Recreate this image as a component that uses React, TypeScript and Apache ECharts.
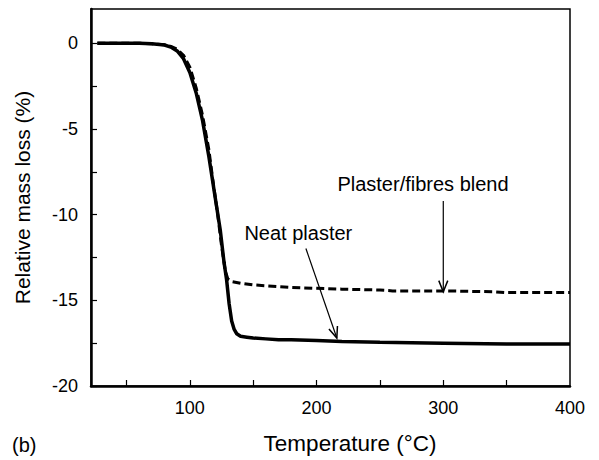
import React, { useEffect, useRef } from "react";
import * as echarts from "echarts";

// Neat plaster (solid line)
const neatT = [27, 40, 50, 60, 70, 80, 85, 90, 95, 100, 105, 110, 115, 120, 124, 127, 129, 131, 133, 135, 137, 140, 145, 150, 160, 170, 180, 200, 220, 250, 300, 350, 400];
const neatV = [0, 0, 0, 0, -0.03, -0.1, -0.22, -0.45, -0.9, -1.7, -2.9, -4.5, -6.6, -9.0, -10.9, -12.8, -13.8, -15.2, -16.2, -16.7, -16.95, -17.1, -17.15, -17.2, -17.25, -17.3, -17.3, -17.35, -17.4, -17.45, -17.5, -17.55, -17.55];

// Plaster/fibres blend (dashed line)
const blendT = [27, 40, 50, 60, 70, 80, 85, 90, 95, 100, 105, 110, 115, 118, 122, 125, 128, 130, 133, 140, 150, 160, 180, 200, 220, 250, 260, 300, 340, 350, 400];
const blendV = [0, 0, 0, 0, -0.03, -0.08, -0.18, -0.35, -0.7, -1.4, -2.6, -4.2, -6.2, -7.9, -10.0, -11.8, -13.3, -13.75, -13.9, -14.0, -14.1, -14.15, -14.25, -14.3, -14.35, -14.4, -14.45, -14.45, -14.5, -14.55, -14.55];

const xTickValues = [50, 100, 150, 200, 250, 300, 350];
const xLabelValues = [100, 200, 300, 400];
const yTickValues = [-20, -17.5, -15, -12.5, -10, -7.5, -5, -2.5, 0];
const yLabelValues = [-20, -15, -10, -5, 0];

// annotation texts and their anchor points in data units
const annotationLabels = ["Plaster/fibres blend", "Neat plaster"];
const annotationX = [284, 185.6];
const annotationY = [-8.2, -11.05];

// arrows [x1, y1, x2, y2] in data units
const arrows = [
  [300, -9.2, 300, -14.5],
  [191.6, -11.98, 216, -17.2],
];

const FONT = "Liberation Sans, Arial, Helvetica, sans-serif";

export default function App() {
  const ref = useRef<HTMLDivElement>(null);
  useEffect(() => {
    if (!ref.current) return;
    const chart = echarts.init(ref.current, undefined, { renderer: "svg" });
    const zip = (a: number[], b: number[]) => a.map((v, i) => [v, b[i]]);
    chart.setOption({
      animation: false,
      backgroundColor: "#fff",
      grid: {
        left: 91,
        right: 29,
        top: 9,
        bottom: 73,
        show: true,
        borderColor: "#000",
        borderWidth: 1.5,
        containLabel: false,
      },
      xAxis: {
        type: "value",
        min: 22,
        max: 400,
        name: "Temperature (°C)",
        nameLocation: "middle",
        nameGap: 46,
        nameTextStyle: { fontFamily: FONT, fontSize: 22.5, color: "#000", padding: [0, 0, 0, 39] },
        axisLine: { show: true, onZero: false, lineStyle: { color: "#000", width: 2.5 } },
        axisTick: { show: true, inside: true, length: 6, customValues: xTickValues, lineStyle: { color: "#000", width: 1.2 } },
        axisLabel: { customValues: xLabelValues, fontFamily: FONT, fontSize: 18, color: "#000", margin: 13 },
        splitLine: { show: false },
      },
      yAxis: {
        type: "value",
        min: -20,
        max: 2,
        name: "Relative mass loss (%)",
        nameLocation: "middle",
        nameRotate: 90,
        nameGap: 58,
        nameTextStyle: { fontFamily: FONT, fontSize: 21, color: "#000" },
        axisLine: { show: true, onZero: false, lineStyle: { color: "#000", width: 2.5 } },
        axisTick: { show: true, inside: true, length: 6, customValues: yTickValues, lineStyle: { color: "#000", width: 1.2 } },
        axisLabel: { customValues: yLabelValues, fontFamily: FONT, fontSize: 18, color: "#000", margin: 13 },
        splitLine: { show: false },
      },
      graphic: [
        {
          type: "text",
          left: 12,
          top: 435,
          style: { text: "(b)", font: `20px ${FONT}`, fill: "#000" },
        },
      ],
      series: [
        {
          name: "Plaster/fibres blend",
          type: "line",
          data: zip(blendT, blendV),
          showSymbol: false,
          smooth: false,
          lineStyle: { color: "#000", width: 3, type: [8, 4] },
        },
        {
          name: "Neat plaster",
          type: "line",
          data: zip(neatT, neatV),
          showSymbol: false,
          smooth: false,
          lineStyle: { color: "#000", width: 3.5 },
        },
        {
          type: "custom",
          data: arrows,
          encode: { x: [0, 2], y: [1, 3] },
          clip: false,
          silent: true,
          renderItem: (params: any, api: any) => {
            const p1 = api.coord([api.value(0), api.value(1)]);
            const p2 = api.coord([api.value(2), api.value(3)]);
            const ang = Math.atan2(p2[1] - p1[1], p2[0] - p1[0]);
            const L = 12;
            const a = (22 * Math.PI) / 180;
            const h1 = [p2[0] - L * Math.cos(ang - a), p2[1] - L * Math.sin(ang - a)];
            const h2 = [p2[0] - L * Math.cos(ang + a), p2[1] - L * Math.sin(ang + a)];
            return {
              type: "group",
              children: [
                { type: "line", shape: { x1: p1[0], y1: p1[1], x2: p2[0], y2: p2[1] }, style: { stroke: "#000", lineWidth: 1.2 } },
                { type: "polyline", shape: { points: [h1, p2, h2] }, style: { stroke: "#000", lineWidth: 1.5, fill: "none" } },
              ],
            };
          },
        },
        {
          type: "custom",
          data: annotationLabels.map((t, i) => [annotationX[i], annotationY[i], t]),
          encode: { x: 0, y: 1 },
          clip: false,
          silent: true,
          renderItem: (params: any, api: any) => {
            const p = api.coord([api.value(0), api.value(1)]);
            return {
              type: "text",
              x: p[0],
              y: p[1],
              style: {
                text: annotationLabels[params.dataIndex],
                font: `20px ${FONT}`,
                fill: "#000",
                align: "center",
                verticalAlign: "middle",
              },
            };
          },
        },
      ],
    });
    return () => chart.dispose();
  }, []);
  return <div ref={ref} style={{ width: 599, height: 460, position: "absolute", left: 0, top: 0 }} />;
}
